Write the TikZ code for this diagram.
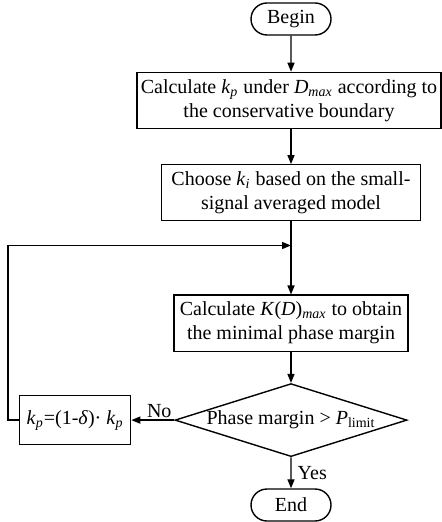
\documentclass[tikz,border=0pt]{standalone}
\usepackage{fontspec}
\setmainfont{Liberation Serif}
\usetikzlibrary{arrows.meta, positioning, shapes.geometric, shapes.misc}

\newcommand{\ital}[1]{\textit{#1}}
\newcommand{\subi}[1]{\textsubscript{\textit{#1}}}

\begin{document}
\begin{tikzpicture}[
    >={Triangle[length=4.5pt,width=3.5pt]},
    line width=0.7pt,
    node distance=18pt,
    every node/.style={font=\fontsize{10}{12}\selectfont, align=center},
    terminal/.style={draw, rounded rectangle, minimum width=40pt, minimum height=16pt, inner sep=0pt},
    process/.style={draw, rectangle, minimum height=28pt, inner sep=1pt},
    decision/.style={draw, diamond, minimum width=116pt, minimum height=36.5pt, inner sep=0pt}
]
    \useasboundingbox (0,0) rectangle (221pt,-261pt);

    \node[terminal] (begin) at (145.5pt,-9.5pt) {Begin};
    \node[process, minimum width=152pt, below=18pt of begin, xshift=-1pt] (calc1)
        {Calculate \ital{k}\subi{p} under \ital{D}\subi{max} according to\\the conservative boundary};
    \node[process, minimum width=129.5pt, below=17.5pt of calc1, xshift=1pt] (choose)
        {Choose \ital{k}\subi{i} based on the small-\\signal averaged model};
    \coordinate[below=12pt of choose.south] (join);
    \node[process, minimum width=117pt, below=24.5pt of join] (calc2)
        {Calculate \ital{K}(\ital{D})\subi{max} to obtain\\the minimal phase margin};
    \node[decision, below=15.5pt of calc2,
        label={center:Phase margin > \ital{P}\textsubscript{limit}}] (check) {};
    \node[terminal, below=15.5pt of check] (end) {End};
    \node[process, minimum width=55.5pt, minimum height=24.5pt, left=21.5pt of check] (update)
        {\ital{k}\subi{p}=(1-\ital{δ})· \ital{k}\subi{p}};

    \coordinate (loop) at (4pt,0 |- join);

    \draw[->] (begin) -- (begin.south |- calc1.north);
    \draw[->] (calc1.south -| begin) -- (choose);
    \draw[->] (choose) -- (calc2);
    \draw[->] (calc2) -- (check);
    \draw[->] (check) -- node[right, inner sep=3pt] {Yes} (end);
    \draw[->] (check) -- node[above, pos=0.35, inner sep=1pt] {No} (update);
    \draw[->] (update.west) -| (loop) -- (join);
\end{tikzpicture}
\end{document}
